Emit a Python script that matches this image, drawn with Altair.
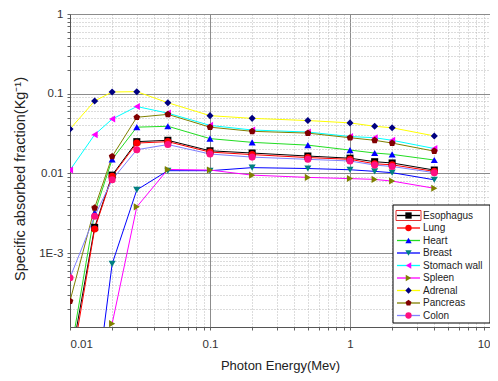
import altair as alt
import pandas as pd

# ---------------- data ----------------
ENERGY = [0.01, 0.015, 0.02, 0.03, 0.05, 0.1, 0.2, 0.5, 1, 1.5, 2, 4]
ORGANS = ["Esophagus", "Lung", "Heart", "Breast", "Stomach wall",
          "Spleen", "Adrenal", "Pancreas", "Colon"]

ESOPHAGUS = [4e-5, 0.0021, 0.0095, 0.025, 0.026, 0.0192, 0.018, 0.0165, 0.0155, 0.014, 0.0135, 0.011]
LUNG = [3e-5, 0.0020, 0.0092, 0.024, 0.025, 0.0185, 0.0172, 0.0158, 0.015, 0.0132, 0.0128, 0.0106]
HEART = [5e-5, 0.0032, 0.015, 0.038, 0.039, 0.0273, 0.0245, 0.0226, 0.0196, 0.018, 0.0173, 0.0147]
BREAST = [None, 1.4e-5, 7.3e-4, 0.0062, 0.0108, 0.0108, 0.0118, 0.0115, 0.0111, 0.0106, 0.0102, 0.0083]
STOMACH_WALL = [0.011, 0.0306, 0.048, 0.069, 0.057, 0.040, 0.035, 0.033, 0.029, 0.028, 0.026, 0.0205]
SPLEEN = [None, None, 1.3e-4, 0.0038, 0.0112, 0.011, 0.0095, 0.0089, 0.0086, 0.0084, 0.0080, 0.0065]
ADRENAL = [0.036, 0.081, 0.105, 0.106, 0.077, 0.053, 0.049, 0.046, 0.043, 0.039, 0.0373, 0.0295]
PANCREAS = [2.5e-4, 0.0037, 0.0163, 0.0506, 0.055, 0.038, 0.0337, 0.032, 0.028, 0.026, 0.024, 0.019]
COLON = [4.9e-4, 0.0029, 0.0083, 0.0198, 0.023, 0.0175, 0.016, 0.015, 0.0143, 0.0127, 0.0122, 0.0102]

SERIES = [ESOPHAGUS, LUNG, HEART, BREAST, STOMACH_WALL, SPLEEN, ADRENAL, PANCREAS, COLON]

LINE_COLORS = ["#000000", "#FF0000", "#22DD22", "#0000FF", "#00FFFF",
               "#FF00FF", "#FFFF00", "#808000", "#8080FF"]
MARKER_COLORS = ["#000000", "#FF0000", "#0000FF", "#008080", "#FF00FF",
                 "#808000", "#000080", "#800000", "#FF1080"]
PENTAGON = "M0,-1L0.951,-0.309L0.588,0.809L-0.588,0.809L-0.951,-0.309Z"
MARKER_SHAPES = ["square", "circle", "triangle-up", "triangle-down", "triangle-left",
                 "triangle-right", "diamond", PENTAGON, "circle"]

X_LABEL_VALUES = [0.01, 0.1, 1, 10]
X_LABELS = ["0.01", "0.1", "1", "10"]
Y_LABEL_VALUES = [1, 0.1, 0.01, 0.001]
Y_LABELS = ["1", "0.1", "0.01", "1E-3"]

X_DOMAIN = [0.01, 10]
Y_DOMAIN = [1.18e-4, 1]

FONT = "Liberation Sans"

# ---------------- build tables ----------------
rows = []
for organ, vals in zip(ORGANS, SERIES):
    for e, v in zip(ENERGY, vals):
        if v is not None:
            rows.append({"organ": organ, "energy": e, "value": v})
df = pd.DataFrame(rows)
legend_df = pd.DataFrame({"organ": ORGANS})
box_df = pd.DataFrame({"box": [0]})


def ticks_in(lo, hi):
    out = []
    for ex in range(-5, 2):
        for m in range(1, 10):
            t = float(f"{m}e{ex}")
            if lo * 0.999 <= t <= hi * 1.001:
                out.append(t)
    return out


def label_expr(vals, labels):
    expr = "''"
    for v, l in zip(reversed(vals), reversed(labels)):
        expr = f"abs(datum.value / {v} - 1) < 1e-6 ? '{l}' : ({expr})"
    return expr


DECADE = "abs(log(datum.value)/LN10 - round(log(datum.value)/LN10)) < 1e-6"


def make_axis(values, vals, labels, title_size, **kw):
    return alt.Axis(
        values=values,
        labelExpr=label_expr(vals, labels),
        grid=True,
        gridColor=alt.condition(DECADE, alt.value("#8c8c8c"), alt.value("#b8b8b8")),
        gridDash=alt.condition(DECADE, alt.value([]), alt.value([1, 2])),
        gridWidth=1,
        domainColor="#555555",
        tickColor="#666666",
        tickSize=3,
        labelFont=FONT,
        labelFontSize=11.5,
        labelColor="#333333",
        titleFont=FONT,
        titleFontSize=title_size,
        titleFontWeight="normal",
        titleColor="#222222",
        labelOverlap=False,
        **kw,
    )


PLOT_H = 313

x_axis = make_axis(ticks_in(*X_DOMAIN), X_LABEL_VALUES, X_LABELS, 13,
                   labelPadding=8, titlePadding=10)
y_axis = make_axis(ticks_in(*Y_DOMAIN), Y_LABEL_VALUES, Y_LABELS, 14.5,
                   labelPadding=4, titleX=-43, titleY=PLOT_H / 2 + 8)

x_enc = alt.X("energy:Q", title="Photon Energy(Mev)",
              scale=alt.Scale(type="log", domain=X_DOMAIN, nice=False), axis=x_axis)
y_enc = alt.Y("value:Q", title="Specific absorbed fraction(Kg\u207b\u00b9)",
              scale=alt.Scale(type="log", domain=Y_DOMAIN, nice=False), axis=y_axis)

stroke_scale = alt.Scale(domain=ORGANS, range=LINE_COLORS)
fill_scale = alt.Scale(domain=ORGANS, range=MARKER_COLORS)
shape_scale = alt.Scale(domain=ORGANS, range=MARKER_SHAPES)

lines = alt.Chart(df).mark_line(strokeWidth=1, clip=True).encode(
    x=x_enc, y=y_enc,
    stroke=alt.Stroke("organ:N", scale=stroke_scale, legend=None),
)

points = alt.Chart(df).mark_point(filled=True, size=50, opacity=1, strokeWidth=0, clip=True).encode(
    x=x_enc, y=y_enc,
    fill=alt.Fill("organ:N", scale=fill_scale, legend=None),
    shape=alt.Shape("organ:N", scale=shape_scale, legend=None),
)

data_layer = alt.layer(lines, points)

# ---------------- legend box (inside the plot) ----------------
BOX_L, BOX_R, BOX_T, BOX_B = 323, 420, 191, 309
ROW_FIRST, ROW_LAST = 201.5, 301.5
SYM_L, SYM_R, SYM_C, LABEL_X = 327, 350, 338.5, 353

leg_y = alt.Y("organ:N", axis=None,
              scale=alt.Scale(type="point", domain=ORGANS, range=[ROW_FIRST, ROW_LAST], padding=0))

box = alt.Chart(box_df).mark_rect(fill="white", stroke="black", strokeWidth=1).encode(
    x=alt.value(BOX_L), x2=alt.value(BOX_R), y=alt.value(BOX_T), y2=alt.value(BOX_B),
)
leg_lines = alt.Chart(legend_df).mark_rule(strokeWidth=1.3).encode(
    x=alt.value(SYM_L), x2=alt.value(SYM_R), y=leg_y,
    stroke=alt.Stroke("organ:N", scale=stroke_scale, legend=None),
)
leg_pts = alt.Chart(legend_df).mark_point(filled=True, size=40, opacity=1, strokeWidth=0).encode(
    x=alt.value(SYM_C), y=leg_y,
    fill=alt.Fill("organ:N", scale=fill_scale, legend=None),
    shape=alt.Shape("organ:N", scale=shape_scale, legend=None),
)
leg_text = alt.Chart(legend_df).mark_text(
    align="left", baseline="middle", font=FONT, fontSize=10, color="#222222"
).encode(x=alt.value(LABEL_X), y=leg_y, text="organ:N")

sel_box = alt.Chart(box_df).mark_rect(fill=None, stroke="#E03030", strokeWidth=1).encode(
    x=alt.value(SYM_L - 1), x2=alt.value(SYM_R + 1),
    y=alt.value(ROW_FIRST - 5), y2=alt.value(ROW_FIRST + 5),
)

legend_layer = alt.layer(box, leg_lines, leg_pts, leg_text, sel_box)

chart = (
    alt.layer(data_layer, legend_layer)
    .resolve_scale(y="independent")
    .properties(
        width=420, height=PLOT_H,
        autosize=alt.AutoSizeParams(type="none"),
        padding={"left": 62, "top": 6, "right": 0, "bottom": 50},
        background="white",
    )
    .configure_view(stroke=None)
)

chart.save("out.html", embed_options={"renderer": "svg", "actions": False})
